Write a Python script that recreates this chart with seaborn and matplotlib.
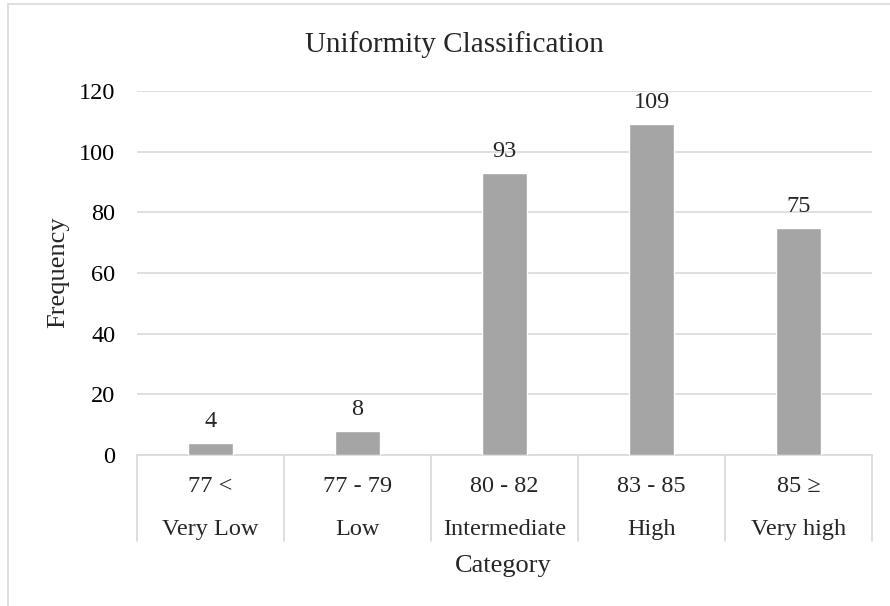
import matplotlib
matplotlib.use("Agg")
import matplotlib.pyplot as plt
import matplotlib.transforms as mtransforms
from matplotlib.patches import Rectangle
import seaborn as sns
import pandas as pd

# Uniformity ranges, class names and counts
ranges = ["77 <", "77 - 79", "80 - 82", "83 - 85", "85 \u2265"]
classes = ["Very Low", "Low", "Intermediate", "High", "Very high"]
frequency = [4, 8, 93, 109, 75]
y_ticks = [0, 20, 40, 60, 80, 100, 120]

sns.set_theme(style="white")
plt.rcParams["font.family"] = ["Liberation Serif", "DejaVu Serif"]

df = pd.DataFrame({"range": ranges, "freq": frequency})

W, H = 890, 606
fig = plt.figure(figsize=(W / 100, H / 100), dpi=100)
ax = fig.add_axes([137 / W, 1 - 455 / H, (872 - 137) / W, (455 - 91) / H])

# Outer chart frame
fig.patches.append(Rectangle((8 / W, -0.1), 1.2, (606 - 4) / H + 0.1,
                             transform=fig.transFigure, fill=False,
                             edgecolor="#D9D9D9", linewidth=1.2))

sns.barplot(data=df, x="range", y="freq", color="#A5A5A5", width=0.31,
            saturation=1, ax=ax, zorder=3)

ax.set_ylim(0, 120)
ax.set_yticks(y_ticks)
ax.set_xlim(-0.5, len(ranges) - 0.5)
ax.yaxis.grid(True, color="#D9D9D9", linewidth=1.2, zorder=0)
ax.tick_params(axis="y", labelsize=17.5, length=0, pad=15.5, colors="black")
ax.tick_params(axis="x", length=0, labelbottom=False)
for side in ["top", "right", "left"]:
    ax.spines[side].set_visible(False)
ax.spines["bottom"].set_color("#D9D9D9")
ax.spines["bottom"].set_linewidth(1.2)
ax.set_xlabel("")
ax.set_ylabel("")

# Value labels above bars
for i, v in enumerate(frequency):
    ax.annotate(str(v), (i, v), xytext=(0, 11.5), textcoords="offset points",
                ha="center", va="baseline", fontsize=17.5)

# Two-level category axis
trans = mtransforms.blended_transform_factory(ax.transData, ax.transAxes)
axis_h = 455 - 91
sep_bottom = -(541 - 455) / axis_h
for i in range(len(ranges) + 1):
    ax.plot([i - 0.5, i - 0.5], [0, sep_bottom], transform=trans,
            color="#D9D9D9", linewidth=1.2, clip_on=False)
for i, (r, c) in enumerate(zip(ranges, classes)):
    ax.text(i, -(492 - 455) / axis_h, r, transform=trans, ha="center",
            va="baseline", fontsize=17.5)
    ax.text(i, -(535 - 455) / axis_h, c, transform=trans, ha="center",
            va="baseline", fontsize=17.5)

fig.text(503 / W, 1 - 572 / H, "Category", ha="center", va="baseline",
         fontsize=19)
fig.text(58 / W, 1 - 272 / H, "Frequency", ha="center", va="center",
         rotation=90, fontsize=19)
fig.text(454 / W, 1 - 52 / H, "Uniformity Classification", ha="center",
         va="baseline", fontsize=21)

fig.savefig("out.png", dpi=100)
